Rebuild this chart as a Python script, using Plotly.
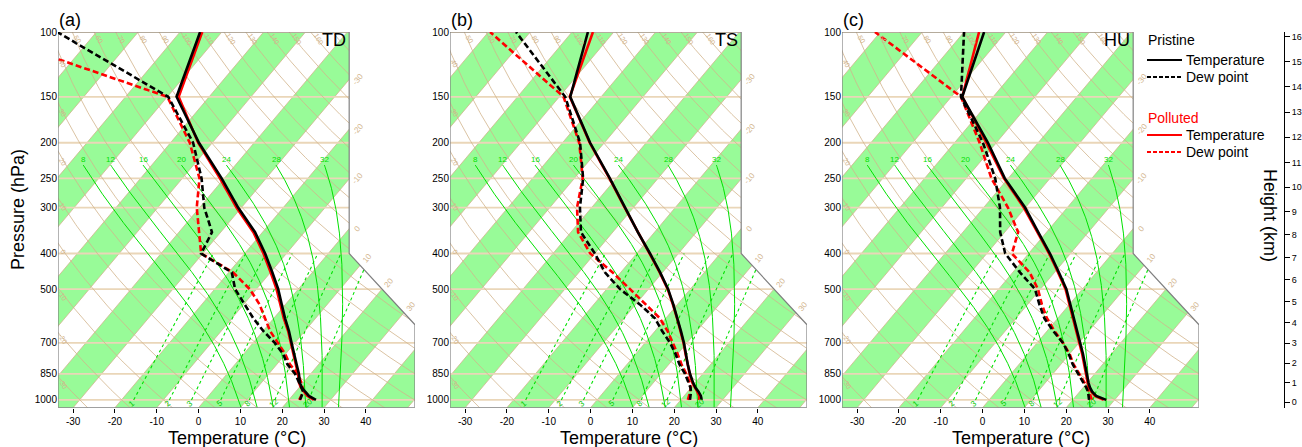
import numpy as np
import plotly.graph_objects as go

# ---------------- data ----------------
P_LEVELS = [1000, 975, 950, 925, 900, 850, 800, 750, 700, 650, 600, 550,
            500, 450, 400, 350, 300, 250, 200, 150, 100]

# panel (a) TD
TD_T_PRISTINE = [26.5, 24.0, 22.3, 20.6, 19.3, 17.2, 14.7, 12.0, 9.2, 6.2, 2.7, -0.9,
                 -4.8, -9.6, -15.1, -21.8, -30.8, -40.6, -53.2, -67.8, -75.2]
TD_T_POLLUTED = [26.0, 23.6, 22.0, 20.4, 19.1, 17.0, 14.5, 11.8, 9.0, 6.0, 2.4, -1.2,
                 -5.2, -10.0, -15.5, -22.2, -31.2, -41.0, -53.4, -67.3, -74.7]
TD_TD_PRISTINE = [22.7, 22.2, 21.8, 20.5, 19.1, 16.3, 12.5, 9.4, 5.2, 0.1, -4.9, -9.7,
                  -15.1, -19.3, -30.4, -32.1, -38.9, -45.4, -54.6, -69.8, -109.4]
TD_TD_POLLUTED = [22.5, 22.1, 21.8, 20.8, 19.7, 16.9, 13.1, 9.9, 6.0, 1.7, -2.1, -6.2,
                  -11.6, -19.0, -30.4, -35.2, -40.7, -45.9, -55.4, -70.0, -128.0]

# panel (b) TS
TS_T_PRISTINE = [25.0, 24.0, 22.6, 21.0, 19.6, 17.0, 14.5, 12.0, 9.3, 6.2, 2.8, -1.0,
                 -5.3, -10.6, -16.8, -24.0, -32.0, -41.5, -53.4, -67.4, -76.2]
TS_T_POLLUTED = [24.4, 23.6, 22.3, 20.8, 19.4, 16.9, 14.4, 11.9, 9.2, 6.1, 2.7, -1.1,
                 -5.4, -10.7, -16.9, -24.1, -32.1, -41.6, -53.5, -67.5, -75.0]
TS_TD_PRISTINE = [22.2, 21.5, 20.8, 19.8, 18.5, 15.8, 12.5, 9.5, 6.0, 1.7, -2.6, -9.0,
                  -16.8, -23.8, -30.0, -37.6, -42.8, -47.9, -55.8, -68.6, -93.4]
TS_TD_POLLUTED = [21.7, 21.2, 20.6, 19.9, 18.8, 16.1, 13.0, 10.0, 6.7, 3.0, -1.4, -7.5,
                  -14.4, -22.0, -31.1, -38.3, -43.5, -48.0, -56.0, -69.0, -99.6]

# panel (c) HU
HU_T_PRISTINE = [28.0, 24.8, 23.0, 21.6, 20.4, 18.2, 15.8, 13.2, 10.3, 7.2, 3.8, 0.1,
                 -3.8, -9.0, -14.9, -22.0, -30.1, -40.8, -52.0, -67.4, -75.2]
HU_T_POLLUTED = [27.4, 24.5, 22.8, 21.4, 20.2, 18.0, 15.6, 13.0, 10.1, 7.0, 3.6, -0.1,
                 -4.0, -9.2, -15.1, -22.2, -30.4, -41.0, -52.4, -67.4, -76.4]
HU_TD_PRISTINE = [23.9, 23.0, 22.0, 20.7, 19.2, 16.0, 12.8, 9.8, 6.2, 1.5, -3.2, -7.2,
                  -11.3, -18.3, -25.6, -31.1, -36.1, -43.1, -53.2, -67.7, -80.0]
HU_TD_POLLUTED = [24.6, 23.4, 22.3, 21.0, 19.5, 16.3, 13.0, 10.0, 6.2, 1.8, -2.6, -6.6,
                  -10.6, -16.0, -24.0, -26.8, -34.2, -44.0, -54.0, -67.7, -101.3]

PANEL_LETTERS = ["(a)", "(b)", "(c)"]
PANEL_TAGS = ["TD", "TS", "HU"]
PANELS = [
    (TD_T_PRISTINE, TD_TD_PRISTINE, TD_T_POLLUTED, TD_TD_POLLUTED),
    (TS_T_PRISTINE, TS_TD_PRISTINE, TS_T_POLLUTED, TS_TD_POLLUTED),
    (HU_T_PRISTINE, HU_TD_PRISTINE, HU_T_POLLUTED, HU_TD_POLLUTED),
]

T_TICKS = [-30, -20, -10, 0, 10, 20, 30, 40]
P_TICKS = [1000, 850, 700, 500, 400, 300, 250, 200, 150, 100]
HEIGHT_TICKS_KM = list(range(0, 17))
THETA_DRY_C = list(range(-30, 180, 10))
MOIST_T0_C = [8, 12, 16, 20, 24, 28, 32]
MIX_RATIO_GKG = [1, 2, 3, 5, 8, 12, 20]

# ---------------- skew-T geometry ----------------
XMIN, XMAX = -19.0, 27.1
YMIN, YMAX = -0.9346217, 44.061


def yv(p):
    return 132.182 - 44.061 * np.log10(np.asarray(p, dtype=float))


def xv(T, p):
    return 0.54 * np.asarray(T, dtype=float) + 0.90692 * yv(p)


def es(T):
    return 6.112 * np.exp(17.67 * T / (T + 243.5))


def moist_dTdp(T, p):
    Tk = T + 273.15
    e = es(T)
    r = 0.622 * e / (p - e)
    Lv, Rd, cp = 2.501e6, 287.04, 1005.7
    return (Rd * Tk + Lv * r) / (p * (cp + Lv * Lv * r * 0.622 / (Rd * Tk * Tk)))


def rk4_step(T, p, h):
    k1 = moist_dTdp(T, p)
    k2 = moist_dTdp(T + 0.5 * h * k1, p + 0.5 * h)
    k3 = moist_dTdp(T + 0.5 * h * k2, p + 0.5 * h)
    k4 = moist_dTdp(T + h * k3, p + h)
    return T + h / 6 * (k1 + 2 * k2 + 2 * k3 + k4)


def moist_adiabat(T0, p_top=230.0, dp=2.0):
    p, Tdown = 1000.0, T0
    while p < 1050.0:
        h = min(dp, 1050.0 - p)
        Tdown = rk4_step(Tdown, p, h)
        p += h
    pp, TT = [1050.0, 1000.0], [Tdown, T0]
    p, T = 1000.0, T0
    while p > p_top:
        h = -min(dp, p - p_top)
        T = rk4_step(T, p, h)
        p += h
        pp.append(p)
        TT.append(T)
    return np.array(pp), np.array(TT)


def tmr(w, p):
    x = np.log10(w * p / (622.0 + w))
    return (10 ** (0.0498646455 * x + 2.4082965) - 7.07475
            + 38.9114 * (10 ** (0.0915 * x) - 1.2035) ** 2 - 273.15)


def height_to_p(h_km):
    h = h_km * 1000.0
    if h <= 11000:
        return 1013.25 * (1 - 2.25577e-5 * h) ** 5.25588
    return 226.32 * np.exp(-(h - 11000) / 6341.6)


W, H = 1302, 447
PANEL_LEFT = [58, 450, 842]
PANEL_W = 357
TOP_PX, BOT_PX = 32.0, 407.7
YDOM = [(H - BOT_PX) / H, (H - TOP_PX) / H]

TAN = "#d2b48c"
PLINE = "#ead6b8"
GREEN_FILL = "#98fb98"
GREEN_LINE = "#00e000"
FONT = "Arial, Liberation Sans, sans-serif"

fig = go.Figure()
layout = dict(template="none", width=W, height=H, margin=dict(l=0, r=0, t=0, b=0, pad=0),
              paper_bgcolor="white", plot_bgcolor="white", showlegend=False,
              font=dict(family=FONT, color="black"))
annotations = []
shapes = []

p_fine = np.exp(np.linspace(np.log(1100), np.log(95), 200))

for i in range(3):
    sfx = "" if i == 0 else str(i + 1)
    xa, ya = "x" + sfx, "y" + sfx
    L = PANEL_LEFT[i]
    layout["xaxis" + sfx] = dict(
        domain=[L / W, (L + PANEL_W) / W], range=[XMIN, XMAX], anchor=ya, automargin=False,
        tickvals=[float(xv(t, 1050)) for t in T_TICKS], ticktext=[str(t) for t in T_TICKS],
        ticks="outside", ticklen=4, tickcolor="black", tickwidth=1,
        showgrid=False, zeroline=False, showline=False,
        tickfont=dict(size=10, family=FONT, color="black"))
    layout["yaxis" + sfx] = dict(
        domain=YDOM, range=[YMIN, YMAX], anchor=xa, automargin=False,
        tickvals=[float(yv(p)) for p in P_TICKS], ticktext=[str(p) for p in P_TICKS],
        ticks="", showgrid=False, zeroline=False, showline=False,
        tickfont=dict(size=10, family=FONT, color="black"))

    # green isotherm bands
    for T0 in range(-140, 60, 20):
        T1 = T0 + 10
        bx = [xv(T0, 1100), xv(T1, 1100), xv(T1, 90), xv(T0, 90), xv(T0, 1100)]
        by = [yv(1100), yv(1100), yv(90), yv(90), yv(1100)]
        fig.add_trace(go.Scatter(x=bx, y=by, mode="lines", fill="toself", fillcolor=GREEN_FILL,
                                 line=dict(width=0), hoverinfo="skip", xaxis=xa, yaxis=ya))
    # isotherm lines
    ix, iy = [], []
    for T0 in range(-150, 60, 10):
        ix += [float(xv(T0, 1100)), float(xv(T0, 90)), None]
        iy += [float(yv(1100)), float(yv(90)), None]
    fig.add_trace(go.Scatter(x=ix, y=iy, mode="lines", line=dict(color=TAN, width=0.8),
                             hoverinfo="skip", xaxis=xa, yaxis=ya))
    # pressure lines
    px_, py_ = [], []
    for p in P_TICKS:
        px_ += [XMIN, XMAX, None]
        py_ += [float(yv(p)), float(yv(p)), None]
    fig.add_trace(go.Scatter(x=px_, y=py_, mode="lines", line=dict(color=PLINE, width=1.8),
                             hoverinfo="skip", xaxis=xa, yaxis=ya))
    # dry adiabats
    dx, dy = [], []
    for th in THETA_DRY_C:
        Tp = (th + 273.15) * (p_fine / 1000.0) ** 0.2857 - 273.15
        dx += list(xv(Tp, p_fine)) + [None]
        dy += list(yv(p_fine)) + [None]
    fig.add_trace(go.Scatter(x=dx, y=dy, mode="lines", line=dict(color=TAN, width=0.8),
                             hoverinfo="skip", xaxis=xa, yaxis=ya))
    # moist adiabats
    mx, my = [], []
    for T0 in MOIST_T0_C:
        pp, TT = moist_adiabat(T0)
        mx += list(xv(TT, pp)) + [None]
        my += list(yv(pp)) + [None]
        annotations.append(dict(x=float(xv(TT[-1], pp[-1])), y=float(yv(pp[-1])), xref=xa, yref=ya,
                                text=str(T0), showarrow=False, yshift=6,
                                font=dict(size=8, color=GREEN_LINE, family=FONT)))
    fig.add_trace(go.Scatter(x=mx, y=my, mode="lines", line=dict(color=GREEN_LINE, width=1),
                             hoverinfo="skip", xaxis=xa, yaxis=ya))
    # mixing ratio lines
    pm = np.linspace(1000, 400, 60)
    wx, wy = [], []
    for w in MIX_RATIO_GKG:
        Tm = tmr(w, pm)
        wx += list(xv(Tm, pm)) + [None]
        wy += list(yv(pm)) + [None]
        annotations.append(dict(x=float(xv(tmr(w, 1020.0), 1020.0)), y=float(yv(1020.0)), xref=xa, yref=ya,
                                text=str(w), showarrow=False, textangle=-40,
                                font=dict(size=8, color="#00c800", family=FONT)))
    fig.add_trace(go.Scatter(x=wx, y=wy, mode="lines", line=dict(color=GREEN_LINE, width=1.1, dash="dot"),
                             hoverinfo="skip", xaxis=xa, yaxis=ya))

    # white mask for the cut-off corner
    mxs = [18.6, 18.6, 27.1, 29.0, 29.0, 18.6]
    mys = [46.0, 17.53, 9.0, 9.0, 46.0, 46.0]
    fig.add_trace(go.Scatter(x=mxs, y=mys, mode="lines", fill="toself", fillcolor="white",
                             line=dict(width=0), hoverinfo="skip", xaxis=xa, yaxis=ya))
    # outline
    ox = [XMIN, XMAX, XMAX, 18.6, 18.6, XMIN, XMIN]
    oy = [YMIN, YMIN, 9.0, 17.53, YMAX, YMAX, YMIN]
    fig.add_trace(go.Scatter(x=ox, y=oy, mode="lines", line=dict(color="#808080", width=1.2),
                             hoverinfo="skip", xaxis=xa, yaxis=ya, cliponaxis=False))

    # dry adiabat labels (top edge and left edge)
    p_lab = 104.5
    for th in THETA_DRY_C:
        Tt = (th + 273.15) * (p_lab / 1000.0) ** 0.2857 - 273.15
        xt = float(xv(Tt, p_lab))
        if XMIN + 0.5 < xt < 18.0 and th <= 160:
            annotations.append(dict(x=xt + 0.35, y=float(yv(p_lab)), xref=xa, yref=ya, text=str(th),
                                    showarrow=False, textangle=58,
                                    font=dict(size=7, color=TAN, family=FONT)))
        Tp = (th + 273.15) * (p_fine / 1000.0) ** 0.2857 - 273.15
        xx = xv(Tp, p_fine) - (XMIN + 0.6)
        idx = np.where(np.diff(np.sign(xx)) != 0)[0]
        if len(idx):
            pc = p_fine[idx[0]]
            if 106 < pc < 1040:
                annotations.append(dict(x=XMIN + 0.6, y=float(yv(pc)), xref=xa, yref=ya, text=str(th),
                                        showarrow=False, textangle=58,
                                        font=dict(size=7, color=TAN, family=FONT)))
    # isotherm labels on right boundary
    for T in range(-30, 40, 10):
        yc = (18.6 - 0.54 * T) / 0.90692
        if 17.53 <= yc <= YMAX:
            xl, yl = 18.6 + 1.1, yc
        else:
            s = 8.5 / 8.53
            yc = (18.6 + 17.53 * s - 0.54 * T) / (0.90692 + s)
            xc = 18.6 + (17.53 - yc) * s
            xl, yl = xc + 0.9, yc + 0.8
        annotations.append(dict(x=xl, y=yl, xref=xa, yref=ya, text=str(T), showarrow=False,
                                textangle=-50, font=dict(size=8, color=TAN, family=FONT)))

    # profiles
    Tpri, Tdpri, Tpol, Tdpol = PANELS[i]
    for vals, col, dash in [(Tpol, "red", "solid"), (Tdpol, "red", "6px,3px"),
                            (Tpri, "black", "solid"), (Tdpri, "black", "6px,3px")]:
        fig.add_trace(go.Scatter(x=xv(vals, P_LEVELS), y=yv(P_LEVELS), mode="lines",
                                 line=dict(color=col, width=2.6, dash=dash),
                                 hoverinfo="skip", xaxis=xa, yaxis=ya))

    annotations.append(dict(x=(L - 1) / W, y=(H - 20) / H, xref="paper", yref="paper", text=PANEL_LETTERS[i],
                            showarrow=False, xanchor="left", yanchor="middle",
                            font=dict(size=18, family=FONT, color="black")))
    annotations.append(dict(x=(L + 290) / W, y=(H - 40) / H, xref="paper", yref="paper", text=PANEL_TAGS[i],
                            showarrow=False, xanchor="right", yanchor="middle",
                            font=dict(size=18, family=FONT, color="black")))
    annotations.append(dict(x=(L + PANEL_W / 2) / W, y=(H - 438) / H, xref="paper", yref="paper",
                            text="Temperature (°C)", showarrow=False, xanchor="center", yanchor="middle",
                            font=dict(size=18, family=FONT, color="black")))

annotations.append(dict(x=18 / W, y=(H - 210) / H, xref="paper", yref="paper", text="Pressure (hPa)",
                        showarrow=False, textangle=-90, xanchor="center", yanchor="middle",
                        font=dict(size=18, family=FONT, color="black")))

# height axis
layout["xaxis4"] = dict(domain=[1270 / W, 1284 / W], range=[0, 1], anchor="y4", visible=False,
                        automargin=False)
layout["yaxis4"] = dict(domain=YDOM, range=[YMIN, YMAX], anchor="x4", side="right", automargin=False,
                        tickvals=[float(yv(height_to_p(h))) for h in HEIGHT_TICKS_KM],
                        ticktext=[str(h) for h in HEIGHT_TICKS_KM],
                        ticks="outside", ticklen=5, tickcolor="black", showline=True, linecolor="black",
                        linewidth=1, showgrid=False, zeroline=False,
                        tickfont=dict(size=9, family=FONT, color="black"))
fig.add_trace(go.Scatter(x=[0.5], y=[10], mode="markers", marker=dict(opacity=0),
                         hoverinfo="skip", xaxis="x4", yaxis="y4"))
annotations.append(dict(x=1270 / W, y=(H - 215) / H, xref="paper", yref="paper", text="Height (km)",
                        showarrow=False, textangle=90, xanchor="center", yanchor="middle",
                        font=dict(size=18, family=FONT, color="black")))

# legend
LEG_X0, LEG_X1, LEG_TX = 1147, 1182, 1184
legend_items = [("Pristine", None, None, 40, "black"),
                ("Temperature", "black", "solid", 60, "black"),
                ("Dew point", "black", "4px,2px", 77, "black"),
                ("Polluted", None, None, 118, "red"),
                ("Temperature", "red", "solid", 135, "black"),
                ("Dew point", "red", "4px,2px", 152, "black")]
for text, lc, ld, ypx, tc in legend_items:
    if lc is None:
        annotations.append(dict(x=1146 / W, y=(H - ypx) / H, xref="paper", yref="paper", text=text,
                                showarrow=False, xanchor="left", yanchor="middle",
                                font=dict(size=14, family=FONT, color=tc)))
    else:
        shapes.append(dict(type="line", xref="paper", yref="paper", x0=LEG_X0 / W, x1=LEG_X1 / W,
                           y0=(H - ypx) / H, y1=(H - ypx) / H,
                           line=dict(color=lc, width=2, dash=ld)))
        annotations.append(dict(x=LEG_TX / W, y=(H - ypx) / H, xref="paper", yref="paper", text=text,
                                showarrow=False, xanchor="left", yanchor="middle",
                                font=dict(size=14, family=FONT, color=tc)))

layout["annotations"] = annotations
layout["shapes"] = shapes
fig.update_layout(**layout)
fig.write_html("out.html", config={"displayModeBar": False},
               post_script="document.body.style.margin='0px';document.body.style.overflow='hidden';")
